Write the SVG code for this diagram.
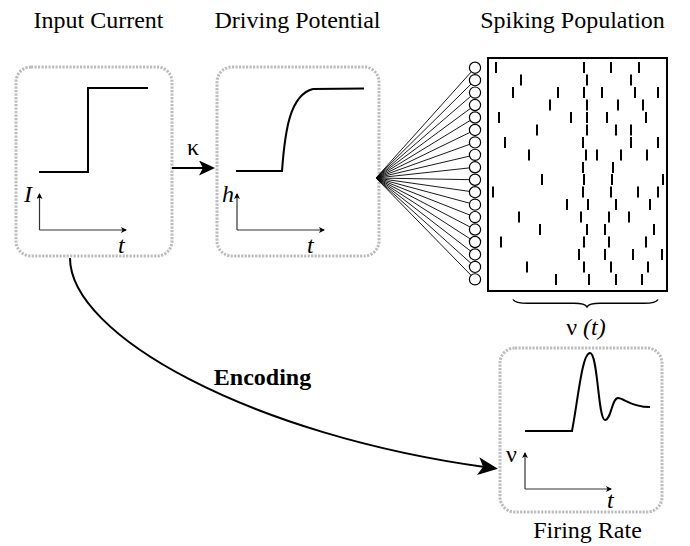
<svg xmlns="http://www.w3.org/2000/svg" width="690" height="546" viewBox="0 0 690 546">
<style>
text{font-family:"Liberation Serif","Times New Roman",serif;fill:#000}
.title{font-size:24px;text-anchor:middle}
.lab{font-size:24px;font-style:italic}
.box{fill:none;stroke:#bdbdbd;stroke-width:3;stroke-dasharray:2.2 1.3}
.curve{fill:none;stroke:#000;stroke-width:2}
.axis{fill:none;stroke:#333;stroke-width:1.2;marker-end:url(#tiny)}
.fan{stroke:#000;stroke-width:0.9}
.cell{fill:#fff;stroke:#000;stroke-width:1.2}
.spk{stroke:#000;stroke-width:2;fill:none}
</style>
<defs>
<marker id="tiny" viewBox="0 0 6 6" refX="5" refY="3" markerWidth="6" markerHeight="6" markerUnits="userSpaceOnUse" orient="auto">
<path d="M0,0 L6,3 L0,6 L1.5,3 z" fill="#000"/>
</marker>
<marker id="bigArrow" viewBox="0 0 20 18" refX="10" refY="9" markerWidth="20" markerHeight="18" markerUnits="userSpaceOnUse" orient="auto">
<path d="M0,0 L20,9 L0,18 L5,9 z" fill="#000"/>
</marker>
<marker id="midArrow" viewBox="0 0 16 15" refX="8" refY="7.5" markerWidth="16" markerHeight="15" markerUnits="userSpaceOnUse" orient="auto">
<path d="M0,0 L16,7.5 L0,15 L4,7.5 z" fill="#000"/>
</marker>
</defs>

<g id="input-current">
<text class="title" x="98.5" y="28">Input Current</text>
<rect class="box" x="16" y="67" width="156" height="189" rx="15"/>
<path class="curve" d="M39,172 L88,172 L88,88 L148,88"/>
<path class="axis" d="M39.5,230 L39.5,194"/>
<path class="axis" d="M39.5,230 L126,230"/>
<text class="lab" x="24" y="202">I</text>
<text class="lab" x="118" y="253">t</text>
</g>

<g id="driving-potential">
<text class="title" x="297.5" y="28">Driving Potential</text>
<rect class="box" x="217" y="67" width="162" height="189" rx="15"/>
<path class="curve" d="M236,171 L282,171 C285,130 290,95 313,89 L364,88.5"/>
<path class="axis" d="M237,230 L237,194"/>
<path class="axis" d="M237,230 L324,230"/>
<text class="lab" x="222" y="202">h</text>
<text class="lab" x="307" y="253">t</text>
</g>

<g id="spiking-population">
<text class="title" x="572.5" y="28">Spiking Population</text>
<g id="fan">
<line class="fan" x1="376" y1="178" x2="475" y2="67.7"/>
<line class="fan" x1="376" y1="178" x2="475" y2="80.15"/>
<line class="fan" x1="376" y1="178" x2="475" y2="92.6"/>
<line class="fan" x1="376" y1="178" x2="475" y2="105.05"/>
<line class="fan" x1="376" y1="178" x2="475" y2="117.5"/>
<line class="fan" x1="376" y1="178" x2="475" y2="129.95"/>
<line class="fan" x1="376" y1="178" x2="475" y2="142.4"/>
<line class="fan" x1="376" y1="178" x2="475" y2="154.85"/>
<line class="fan" x1="376" y1="178" x2="475" y2="167.3"/>
<line class="fan" x1="376" y1="178" x2="475" y2="179.75"/>
<line class="fan" x1="376" y1="178" x2="475" y2="192.2"/>
<line class="fan" x1="376" y1="178" x2="475" y2="204.65"/>
<line class="fan" x1="376" y1="178" x2="475" y2="217.1"/>
<line class="fan" x1="376" y1="178" x2="475" y2="229.55"/>
<line class="fan" x1="376" y1="178" x2="475" y2="242"/>
<line class="fan" x1="376" y1="178" x2="475" y2="254.45"/>
<line class="fan" x1="376" y1="178" x2="475" y2="266.9"/>
<line class="fan" x1="376" y1="178" x2="475" y2="279.35"/>
</g>
<g id="cells">
<circle class="cell" cx="475" cy="67.7" r="5.6"/>
<circle class="cell" cx="475" cy="80.15" r="5.6"/>
<circle class="cell" cx="475" cy="92.6" r="5.6"/>
<circle class="cell" cx="475" cy="105.05" r="5.6"/>
<circle class="cell" cx="475" cy="117.5" r="5.6"/>
<circle class="cell" cx="475" cy="129.95" r="5.6"/>
<circle class="cell" cx="475" cy="142.4" r="5.6"/>
<circle class="cell" cx="475" cy="154.85" r="5.6"/>
<circle class="cell" cx="475" cy="167.3" r="5.6"/>
<circle class="cell" cx="475" cy="179.75" r="5.6"/>
<circle class="cell" cx="475" cy="192.2" r="5.6"/>
<circle class="cell" cx="475" cy="204.65" r="5.6"/>
<circle class="cell" cx="475" cy="217.1" r="5.6"/>
<circle class="cell" cx="475" cy="229.55" r="5.6"/>
<circle class="cell" cx="475" cy="242" r="5.6"/>
<circle class="cell" cx="475" cy="254.45" r="5.6"/>
<circle class="cell" cx="475" cy="266.9" r="5.6"/>
<circle class="cell" cx="475" cy="279.35" r="5.6"/>
</g>
<rect x="488" y="58" width="179" height="233" fill="none" stroke="#000" stroke-width="2"/>
<path class="spk" d="
M496,62v11 M584,62v11 M611,62v11 M639,62v11
M521,74.5v11 M587,74.5v11 M631,74.5v11
M513,87v11 M558,87v11 M584,87v11 M602,87v11 M635,87v11 M658,87v11
M550,99.5v11 M587,99.5v11 M618,99.5v11 M643,99.5v11
M499,112v11 M571,112v11 M587,112v11 M607,112v11 M646,112v11
M537,124.5v11 M587,124.5v11 M616,124.5v11 M631,124.5v11
M505,137v11 M583,137v11 M631,137v11 M658,137v11
M529,149.5v11 M586,149.5v11 M597,149.5v11 M621,149.5v11 M647,149.5v11
M583,162v11 M613,162v11
M542,174v11 M584,174v11 M612,174v11 M663,174v11
M493,186.5v11 M583,186.5v11 M611,186.5v11 M638,186.5v11 M658,186.5v11
M567,199v11 M588,199v11 M616,199v11 M650,199v11
M519,211.5v11 M581,211.5v11 M609,211.5v11 M629,211.5v11
M540,224v11 M587,224v11 M605,224v11 M654,224v11
M501,236.5v11 M584,236.5v11 M609,236.5v11 M646,236.5v11
M579,249v11 M605,249v11 M633,249v11 M662,249v11
M527,261.5v11 M584,261.5v11 M611,261.5v11 M648,261.5v11
M556,274v11 M589,274v11 M616,274v11 M642,274v11"/>
<path d="M513,299.5 Q515,303.3 528,303.3 L574,303.3 Q585,303.3 587,307 Q589,303.3 600,303.3 L644,303.3 Q656,303.3 658,299.5" fill="none" stroke="#000" stroke-width="1.5"/>
<text x="586" y="335" font-size="24" text-anchor="middle">ν <tspan font-style="italic">(t)</tspan></text>
</g>

<g id="firing-rate">
<rect class="box" x="500" y="348" width="162" height="164" rx="15"/>
<path class="curve" d="M525,431 L572,431 C578,400 582,353 590,353 C598,353 598,420 605,420 C611,420 612,398 618,398 C624,398 630,407 650,407"/>
<path class="axis" d="M525,489 L525,453"/>
<path class="axis" d="M525,489 L611,489"/>
<text x="506" y="462" font-size="24">ν</text>
<text class="lab" x="607" y="508">t</text>
<text class="title" x="587.5" y="538">Firing Rate</text>
</g>

<g id="connectors">
<path d="M172,168 L207,168" fill="none" stroke="#000" stroke-width="2" marker-end="url(#midArrow)"/>
<text x="193" y="155" font-size="24" text-anchor="middle">κ</text>
<path d="M70,258 C70,335 250,435 488,467.5" fill="none" stroke="#000" stroke-width="2" marker-end="url(#bigArrow)"/>
<text x="262.5" y="385" font-size="24" font-weight="bold" text-anchor="middle">Encoding</text>
</g>
</svg>
